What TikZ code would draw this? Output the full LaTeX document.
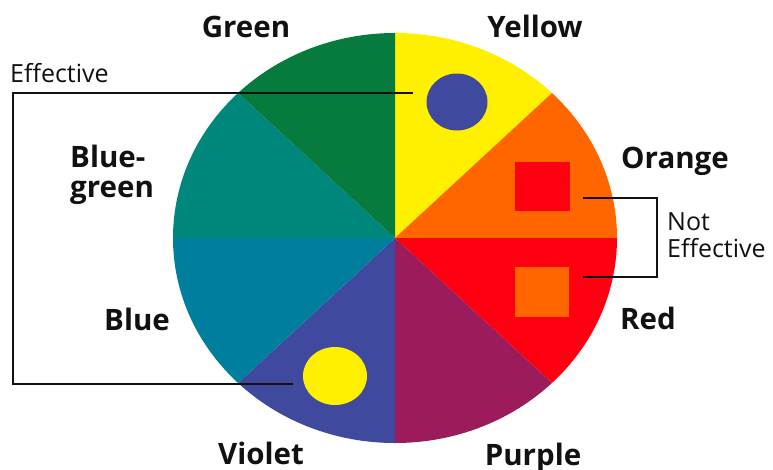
\documentclass[tikz,border=0pt]{standalone}
\usepackage{fontspec}
\setmainfont{Open Sans}
\usetikzlibrary{shapes.geometric}
\definecolor{cGreen}{RGB}{7,122,61}
\definecolor{cYellow}{RGB}{255,240,0}
\definecolor{cOrange}{RGB}{255,102,0}
\definecolor{cRed}{RGB}{255,0,16}
\definecolor{cPurple}{RGB}{155,27,91}
\definecolor{cViolet}{RGB}{63,74,159}
\definecolor{cBlue}{RGB}{0,126,158}
\definecolor{cBlueGreen}{RGB}{0,135,123}
\definecolor{cText}{RGB}{17,17,17}
\begin{document}
\begin{tikzpicture}[x=1pt,y=-1pt,
  lbl/.style={font=\fontsize{29.5}{30}\selectfont\bfseries, text=cText, anchor=base, inner sep=0pt},
  lbll/.style={lbl, anchor=base west, align=left},
  note/.style={font=\fontsize{25}{27}\selectfont, text=cText, anchor=base west, align=left, inner sep=0pt},
  bracket/.style={draw=cText, line width=1.2pt},
  marker/.style={inner sep=0pt, draw=none}]
\useasboundingbox (0,0) rectangle (773,469);
\begin{scope}
  \clip (395,238) ellipse [x radius=222pt, y radius=205pt];
  \fill[cYellow]    (395,238) -- (395,-200) -- (839,-172) -- cycle;
  \fill[cOrange]    (395,238) -- (839,-172) -- (900,238) -- cycle;
  \fill[cRed]       (395,238) -- (900,238) -- (839,648) -- cycle;
  \fill[cPurple]    (395,238) -- (839,648) -- (395,700) -- cycle;
  \fill[cViolet]    (395,238) -- (395,700) -- (-49,648) -- cycle;
  \fill[cBlue]      (395,238) -- (-49,648) -- (-100,238) -- cycle;
  \fill[cBlueGreen] (395,238) -- (-100,238) -- (-49,-172) -- cycle;
  \fill[cGreen]     (395,238) -- (-49,-172) -- (395,-200) -- cycle;
\end{scope}
% markers
\node[marker, ellipse, fill=cViolet, minimum width=61pt, minimum height=57pt] (bluedot) at (457,102) {};
\node[marker, ellipse, fill=cYellow, minimum width=64pt, minimum height=58pt] (yellowdot) at (335,376) {};
\node[marker, rectangle, fill=cRed, minimum width=55pt, minimum height=49pt] (redsq) at (542.5,186.5) {};
\node[marker, rectangle, fill=cOrange, minimum width=54pt, minimum height=50pt] (orangesq) at (542,292) {};
% labels
\node[lbl] (green) at (246,37) {Green};
\node[lbl] (yellow) at (535,37) {Yellow};
\node[lbl] (orange) at (675,168) {Orange};
\node[lbll] (bluegreen) at (70,197) {Blue-\\green};
\node[lbl] (blue) at (137,330) {Blue};
\node[lbl] (violet) at (261,464) {Violet};
\node[lbl] (red) at (648,329) {Red};
\node[lbl] (purple) at (533,465) {Purple};
\node[note] (eff) at (10,82) {Effective};
\node[note] (noteff) at (667,257) {Not\\Effective};
% brackets
\coordinate (effA) at (413,93);
\coordinate (effL) at (13,238);
\coordinate (effB) at (293,384);
\draw[bracket] (effA) -| (effL) |- (effB);
\coordinate (neA) at (583,198);
\coordinate (neR) at (657,238);
\coordinate (neB) at (583,277);
\draw[bracket] (neA) -| (neR) |- (neB);
\end{tikzpicture}
\end{document}
